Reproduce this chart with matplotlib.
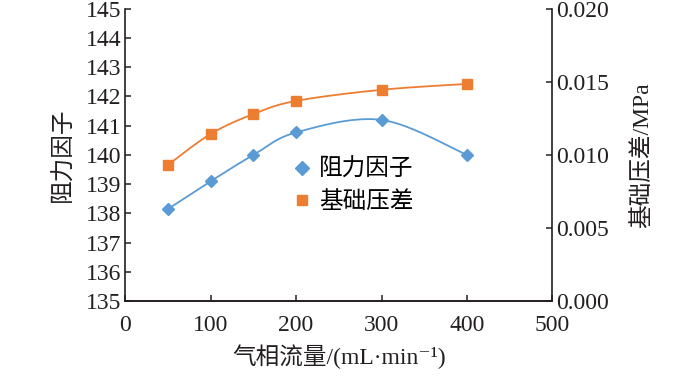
import numpy as np
import matplotlib
matplotlib.use('Agg')
import matplotlib.pyplot as plt
from matplotlib.lines import Line2D

plt.rcParams['font.family'] = ['Liberation Serif', 'Noto Sans CJK SC', 'DejaVu Serif']

# gas flow rate, mL/min
flow = [50, 100, 150, 200, 300, 400]
# resistance factor (left axis)
resist = [138.15, 139.1, 140.0, 140.77, 141.2, 140.0]
# base pressure difference, MPa (right axis)
dp = [0.00932, 0.01144, 0.0128, 0.0137, 0.01446, 0.01486]

blue = '#5b9bd5'
orange = '#ed7d31'
ink = '#231f20'


def smooth(x, y, n=30):
    # excel-like smoothed line through the points (bezier, catmull-rom tangents)
    x = np.asarray(x, float)
    y = np.asarray(y, float)
    px = np.concatenate([[x[0]], x, [x[-1]]])
    py = np.concatenate([[y[0]], y, [y[-1]]])
    xs, ys = [], []
    t = np.linspace(0, 1, n)
    for i in range(1, len(px) - 2):
        p0 = np.array([px[i], py[i]])
        p3 = np.array([px[i + 1], py[i + 1]])
        p1 = p0 + (p3 - np.array([px[i - 1], py[i - 1]])) / 6
        p2 = p3 - (np.array([px[i + 2], py[i + 2]]) - p0) / 6
        b = ((1 - t) ** 3)[:, None] * p0 + (3 * (1 - t) ** 2 * t)[:, None] * p1 \
            + (3 * (1 - t) * t ** 2)[:, None] * p2 + (t ** 3)[:, None] * p3
        xs.extend(b[:, 0])
        ys.extend(b[:, 1])
    return xs, ys


fig, ax = plt.subplots(figsize=(7, 3.84), dpi=100)
fig.subplots_adjust(left=0.179, right=0.789, top=0.977, bottom=0.216)
ax2 = ax.twinx()

sx, sy = smooth(flow, resist)
ax.plot(sx, sy, color=blue, lw=1.3)
ax.plot(flow, resist, 'D', color=blue, ms=6.5, ls='none')

sx2, sy2 = smooth(flow, dp)
ax2.plot(sx2, sy2, color=orange, lw=1.3)
ax2.plot(flow, dp, 's', color=orange, ms=6.5, ls='none')

ax.set_xlim(0, 500)
ax.set_ylim(135, 145)
ax2.set_ylim(0, 0.020)
ax.set_xticks(range(0, 501, 100))
ax.set_yticks(range(135, 146))
ax2.set_yticks([0, 0.005, 0.010, 0.015, 0.020])
ax2.set_yticklabels(['0.000', '0.005', '0.010', '0.015', '0.020'])

for a in (ax, ax2):
    a.spines['top'].set_visible(False)
    for s in a.spines.values():
        s.set_linewidth(1.2)
        s.set_color(ink)
    a.tick_params(direction='in', length=4, width=1.1, labelsize=17,
                  colors=ink, pad=3)
ax2.spines['left'].set_visible(False)
ax.spines['right'].set_visible(False)
ax.tick_params(axis='x', pad=10)

ax.set_xlabel('气相流量/(mL·min⁻¹)', fontsize=17, color=ink, labelpad=6)
ax.set_ylabel('阻力因子', fontsize=17, color=ink, labelpad=8)
ax2.set_ylabel('基础压差/MPa', fontsize=17, color=ink, labelpad=16)

handles = [Line2D([], [], marker='D', color=blue, ls='none', ms=7),
           Line2D([], [], marker='s', color=orange, ls='none', ms=7)]
ax.legend(handles, ['阻力因子', '基础压差'], loc='upper left',
          bbox_to_anchor=(0.33, 0.56), frameon=False, fontsize=17,
          handletextpad=0.15, labelspacing=0.45, handlelength=1.2)

fig.savefig('out.png', dpi=100)
